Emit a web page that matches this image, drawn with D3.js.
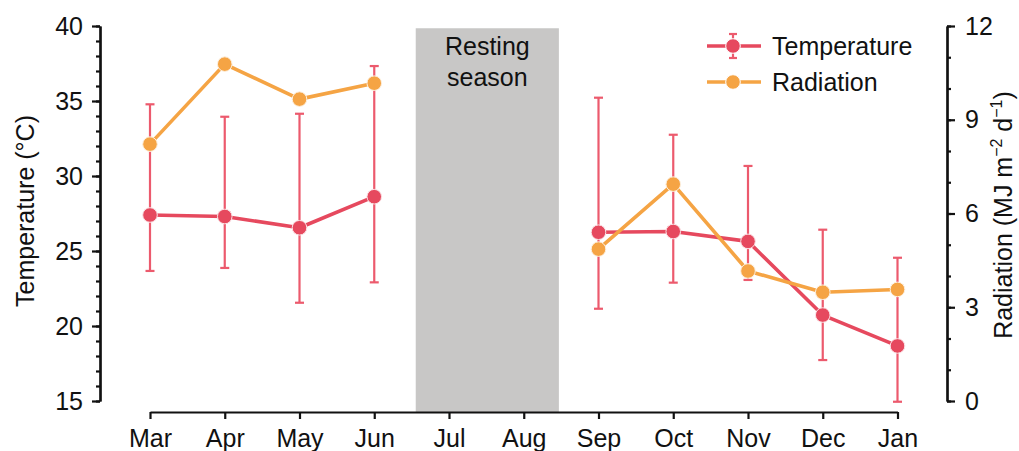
<!DOCTYPE html>
<html>
<head>
<meta charset="utf-8">
<script src="https://cdn.jsdelivr.net/npm/d3@7"></script>
<style>
  html, body { margin: 0; padding: 0; background: #fff; }
  svg { display: block; font-family: "Liberation Sans", Arial, Helvetica, sans-serif; }
</style>
</head>
<body>
<svg id="chart" width="1019" height="451"></svg>
<script>
// Monthly climate record: mean air temperature (with range) and daily radiation
const months = ["Mar", "Apr", "May", "Jun", "Jul", "Aug", "Sep", "Oct", "Nov", "Dec", "Jan"];

// Temperature (°C); null = no measurement (resting season)
const tempMean = [27.4, 27.3, 26.55, 28.62, null, null, 26.25, 26.3, 25.64, 20.73, 18.67];
const tempHigh = [34.78, 33.95, 34.15, 37.33, null, null, 35.22, 32.75, 30.67, 26.42, 24.55];
const tempLow  = [23.67, 23.87, 21.55, 22.91, null, null, 21.15, 22.89, 23.07, 17.73, 14.95];

// Radiation (MJ m-2 d-1)
const radiation = [8.22, 10.78, 9.66, 10.17, null, null, 4.86, 6.94, 4.16, 3.48, 3.57];

// Resting season span (month-index units) and its label
const restSpan = [3.555, 5.47];
const restLabel = ["Resting", "season"];

const tempTicks = [15, 20, 25, 30, 35, 40];
const radTicks = [0, 3, 6, 9, 12];

const RED = "#E6495E";
const RED_BAR = "#EC5A6D";
const ORANGE = "#F5A444";
const FS = 25;
const DOT_R = 7.3;

const svg = d3.select("#chart");

const x = d3.scaleLinear().domain([0, months.length - 1]).range([150, 897.5]);
const yT = d3.scaleLinear().domain([15, 40]).range([401, 26]);
const yR = d3.scaleLinear().domain([0, 12]).range([401, 26]);

// Resting-season band
svg.append("rect")
  .attr("x", x(restSpan[0]))
  .attr("width", x(restSpan[1]) - x(restSpan[0]))
  .attr("y", yT(39.85))
  .attr("height", 412 - yT(39.85))
  .attr("fill", "#C8C7C6");

const restCx = (x(restSpan[0]) + x(restSpan[1])) / 2;
svg.append("text")
  .attr("x", restCx)
  .attr("y", 55)
  .attr("text-anchor", "middle")
  .attr("font-size", FS)
  .attr("fill", "#111")
  .selectAll("tspan").data(restLabel).join("tspan")
  .attr("x", restCx)
  .attr("dy", (d, i) => i === 0 ? 0 : 31)
  .text(d => d);

function styleAxis(g) {
  g.selectAll(".domain").attr("stroke", "#111").attr("stroke-width", 2.2);
  g.selectAll(".tick line").attr("stroke", "#111").attr("stroke-width", 2.2);
  g.selectAll(".tick text").attr("fill", "#111").attr("font-size", FS)
    .attr("font-family", "'Liberation Sans', Arial, Helvetica, sans-serif");
}

// Left axis (temperature): minor ticks every 1 °C, labelled every 5 °C
const leftMinor = svg.append("g").attr("transform", "translate(100,0)")
  .call(d3.axisLeft(yT).tickValues(d3.range(15, 41, 1)).tickSize(4).tickFormat("").tickSizeOuter(0));
styleAxis(leftMinor);
const leftMajor = svg.append("g").attr("transform", "translate(100,0)")
  .call(d3.axisLeft(yT).tickValues(tempTicks).tickSize(8).tickPadding(9).tickSizeOuter(0));
styleAxis(leftMajor);

// Right axis (radiation): minor ticks every 1, labelled every 3
const rightMinor = svg.append("g").attr("transform", "translate(947,0)")
  .call(d3.axisRight(yR).tickValues(d3.range(0, 13, 1)).tickSize(4).tickFormat("").tickSizeOuter(0));
styleAxis(rightMinor);
const rightMajor = svg.append("g").attr("transform", "translate(947,0)")
  .call(d3.axisRight(yR).tickValues(radTicks).tickSize(8).tickPadding(10).tickSizeOuter(0));
styleAxis(rightMajor);

// Bottom axis (months)
const bottom = svg.append("g").attr("transform", "translate(0,412)")
  .call(d3.axisBottom(x).tickValues(d3.range(months.length)).tickFormat(i => months[i])
    .tickSize(7).tickPadding(10).tickSizeOuter(0));
styleAxis(bottom);

// Axis titles
svg.append("text")
  .attr("transform", "translate(34,211) rotate(-90)")
  .attr("text-anchor", "middle")
  .attr("font-size", FS)
  .attr("fill", "#111")
  .text("Temperature (°C)");

const radTitle = svg.append("text")
  .attr("transform", "translate(1012,215) rotate(-90)")
  .attr("text-anchor", "middle")
  .attr("font-size", FS)
  .attr("fill", "#111");
radTitle.append("tspan").text("Radiation (MJ m");
radTitle.append("tspan").attr("font-size", 16).attr("dy", -10).text("−2");
radTitle.append("tspan").attr("dy", 10).text(" d");
radTitle.append("tspan").attr("font-size", 16).attr("dy", -10).text("−1");
radTitle.append("tspan").attr("dy", 10).text(")");

// Temperature series
const tempData = months.map((m, i) => ({ i, mean: tempMean[i], hi: tempHigh[i], lo: tempLow[i] }))
  .filter(d => d.mean != null);
const radData = months.map((m, i) => ({ i, v: radiation[i] })).filter(d => d.v != null);

const capW = 4.5;
const bars = svg.append("g").attr("stroke", RED_BAR).attr("stroke-width", 2.2);
tempData.forEach(d => {
  bars.append("line").attr("x1", x(d.i)).attr("x2", x(d.i)).attr("y1", yT(d.hi)).attr("y2", yT(d.lo));
  bars.append("line").attr("x1", x(d.i) - capW).attr("x2", x(d.i) + capW).attr("y1", yT(d.hi)).attr("y2", yT(d.hi));
  bars.append("line").attr("x1", x(d.i) - capW).attr("x2", x(d.i) + capW).attr("y1", yT(d.lo)).attr("y2", yT(d.lo));
});

// Lines broken across the resting season
const segs = (data) => [data.filter(d => d.i <= 3), data.filter(d => d.i >= 6)];

const tLine = d3.line().x(d => x(d.i)).y(d => yT(d.mean));
segs(tempData).forEach(s => svg.append("path").attr("d", tLine(s))
  .attr("fill", "none").attr("stroke", RED).attr("stroke-width", 3.6).attr("stroke-linejoin", "round"));
svg.append("g").selectAll("circle").data(tempData).join("circle")
  .attr("cx", d => x(d.i)).attr("cy", d => yT(d.mean)).attr("r", DOT_R)
  .attr("fill", RED).attr("stroke", "#fbe3e6").attr("stroke-width", 1);

const rLine = d3.line().x(d => x(d.i)).y(d => yR(d.v));
segs(radData).forEach(s => svg.append("path").attr("d", rLine(s))
  .attr("fill", "none").attr("stroke", ORANGE).attr("stroke-width", 3.6).attr("stroke-linejoin", "round"));
svg.append("g").selectAll("circle").data(radData).join("circle")
  .attr("cx", d => x(d.i)).attr("cy", d => yR(d.v)).attr("r", DOT_R)
  .attr("fill", ORANGE).attr("stroke", "#fdf0df").attr("stroke-width", 1);

// Legend
const legend = svg.append("g");
const legendItems = [
  { label: "Temperature", color: RED, y: 46, err: true },
  { label: "Radiation", color: ORANGE, y: 82, err: false }
];
legendItems.forEach(it => {
  legend.append("line").attr("x1", 707).attr("x2", 761).attr("y1", it.y).attr("y2", it.y)
    .attr("stroke", it.color).attr("stroke-width", 3.6);
  if (it.err) {
    const eg = legend.append("g").attr("stroke", RED_BAR).attr("stroke-width", 2.2);
    eg.append("line").attr("x1", 733).attr("x2", 733).attr("y1", it.y - 12).attr("y2", it.y + 12);
    eg.append("line").attr("x1", 729).attr("x2", 737).attr("y1", it.y - 12).attr("y2", it.y - 12);
    eg.append("line").attr("x1", 729).attr("x2", 737).attr("y1", it.y + 12).attr("y2", it.y + 12);
  }
  legend.append("circle").attr("cx", 733).attr("cy", it.y).attr("r", DOT_R)
    .attr("fill", it.color).attr("stroke", "#fff").attr("stroke-width", 1);
  legend.append("text").attr("x", 772).attr("y", it.y + 9).attr("font-size", FS)
    .attr("fill", "#111").text(it.label);
});
</script>
</body>
</html>
